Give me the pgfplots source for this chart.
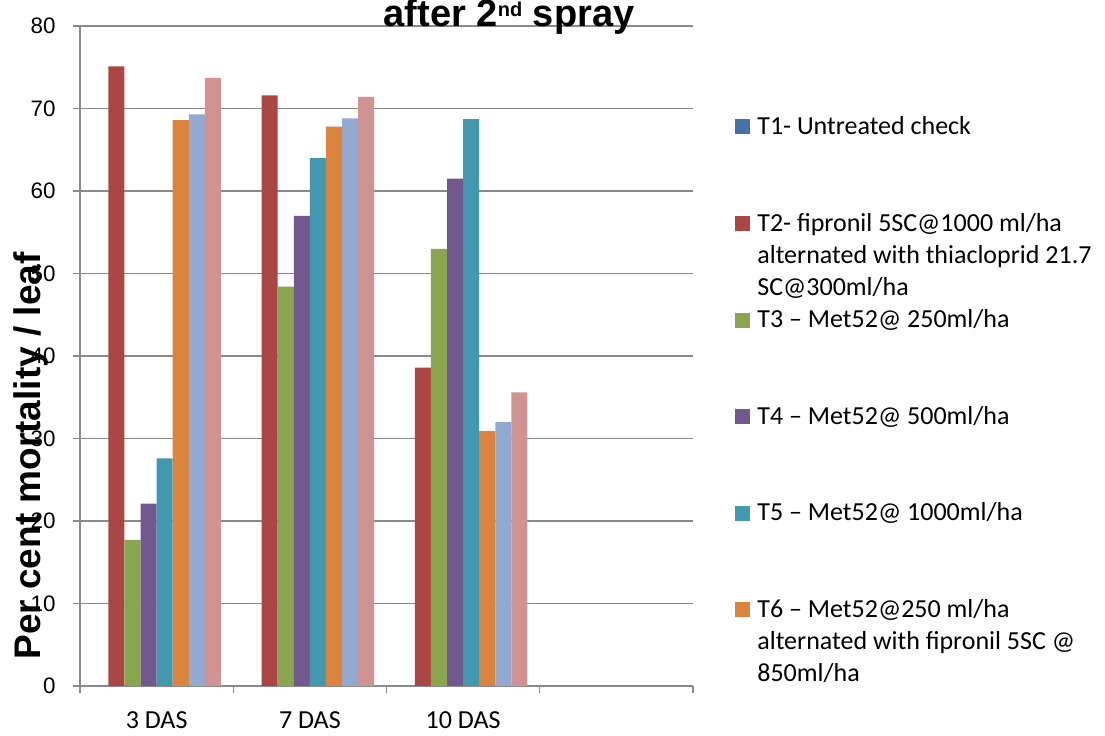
\documentclass[border=0pt]{standalone}
\usepackage{pgfplots}
\pgfplotsset{compat=1.18}
\usepackage{fontspec}
\setmainfont{Carlito}
\newfontfamily\arial{Liberation Sans}
\definecolor{c1}{HTML}{4572A7}
\definecolor{c2}{HTML}{AA4643}
\definecolor{c3}{HTML}{89A54E}
\definecolor{c4}{HTML}{71588F}
\definecolor{c5}{HTML}{4198AF}
\definecolor{c6}{HTML}{DB843D}
\definecolor{c7}{HTML}{93A9CF}
\definecolor{c8}{HTML}{D19392}
\definecolor{gridc}{HTML}{8A8A8A}
\pgfplotsset{leg/.style={legend image code/.code={\fill[#1] (0pt,0pt) rectangle (7.5pt,7.5pt);}}}
\begin{document}
\begin{tikzpicture}
\useasboundingbox (0,0) rectangle (552.5pt,367.5pt);
\begin{axis}[
  at={(40pt,24.5pt)}, anchor=south west,
  width=306.5pt, height=330pt, scale only axis,
  clip=false,
  xmin=-0.5, xmax=3.5, ymin=0, ymax=80,
  axis x line*=bottom, axis y line*=left,
  axis line style={gridc, line width=0.7pt},
  ytick={0,10,...,80},
  ymajorgrids, grid style={gridc, line width=0.7pt},
  tick align=outside, major tick length=3.5pt,
  tick style={gridc, line width=0.7pt},
  xtick={-0.5,0.5,1.5,2.5,3.5}, xticklabels={{},{},{},{},{}},
  extra x ticks={0,1,2}, extra x tick labels={3 DAS,7 DAS,10 DAS},
  extra x tick style={major tick length=0pt, tick style={draw=none}},
  xticklabel style={font=\fontsize{13}{15}\selectfont, anchor=base, inner sep=0pt, yshift=-21pt},
  /pgf/number format/assume math mode=true,
  yticklabel style={font=\fontsize{11.2}{13}\arial, anchor=east, inner sep=0pt, xshift=-8.5pt},
  ylabel={Per cent mortality / leaf},
  ylabel style={at={(axis description cs:-0.080,0.3485)}, anchor=center, font=\fontsize{18.5}{20}\arial\bfseries},
  ybar, bar width=0.105,
  legend style={at={(axis description cs:1.0685,0.8705)}, anchor=north west, draw=none, fill=none,
    inner sep=0pt, row sep=0pt, column sep=3.5pt, cells={anchor=base west},
    nodes={inner sep=0pt, text depth=}, font=\fontsize{13}{16.1}\selectfont},
]
\addplot[fill=c1, draw=none, bar shift=-0.3675, leg=c1] coordinates {(0,0) (1,0) (2,0)};
\addlegendentry{\parbox[t]{180pt}{\strut T1- Untreated check\\\strut\\\strut}}
\addplot[fill=c2, draw=none, bar shift=-0.2625, leg=c2] coordinates {(0,75.1) (1,71.6) (2,38.6)};
\addlegendentry{\parbox[t]{180pt}{\strut T2- fipronil 5SC@1000 ml/ha\\\strut alternated with thiacloprid 21.7\\\strut SC@300ml/ha}}
\addplot[fill=c3, draw=none, bar shift=-0.1575, leg=c3] coordinates {(0,17.7) (1,48.4) (2,53.0)};
\addlegendentry{\parbox[t]{180pt}{\strut T3 – Met52@ 250ml/ha\\\strut\\\strut}}
\addplot[fill=c4, draw=none, bar shift=-0.0525, leg=c4] coordinates {(0,22.1) (1,57.0) (2,61.5)};
\addlegendentry{\parbox[t]{180pt}{\strut T4 – Met52@ 500ml/ha\\\strut\\\strut}}
\addplot[fill=c5, draw=none, bar shift=0.0525, leg=c5] coordinates {(0,27.6) (1,64.0) (2,68.7)};
\addlegendentry{\parbox[t]{180pt}{\strut T5 – Met52@ 1000ml/ha\\\strut\\\strut}}
\addplot[fill=c6, draw=none, bar shift=0.1575, leg=c6] coordinates {(0,68.6) (1,67.8) (2,30.9)};
\addlegendentry{\parbox[t]{180pt}{\strut T6 – Met52@250 ml/ha\\\strut alternated with fipronil 5SC @\\\strut 850ml/ha}}
\addplot[fill=c7, draw=none, bar shift=0.2625, forget plot] coordinates {(0,69.3) (1,68.8) (2,32.0)};
\addplot[fill=c8, draw=none, bar shift=0.3675, forget plot] coordinates {(0,73.7) (1,71.4) (2,35.6)};
\node[anchor=base, font=\fontsize{19}{22}\arial\bfseries] at (axis description cs:0.70,0.9985)
  {after 2\raisebox{5pt}{\fontsize{10}{10}\selectfont nd} spray};
\end{axis}
\end{tikzpicture}
\end{document}
